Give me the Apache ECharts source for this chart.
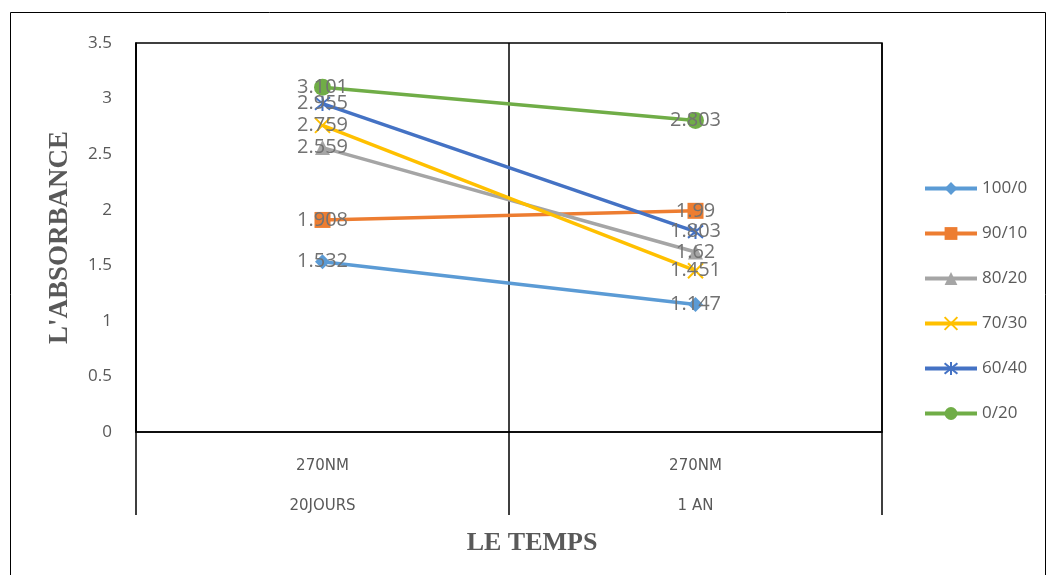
<!DOCTYPE html>
<html>
<head>
<meta charset="utf-8">
<script src="https://cdn.jsdelivr.net/npm/echarts@6/dist/echarts.min.js"></script>
<style>
  html, body { margin: 0; padding: 0; background: #fff; }
  #chart { width: 1050px; height: 575px; }
</style>
</head>
<body>
<div id="chart"></div>
<script>
// Absorbance at 270 nm after 20 days and after one year, per mixture ratio
const categories = ['270NM\n\n20JOURS', '270NM\n\n1 AN'];
const seriesNames = ['100/0', '90/10', '80/20', '70/30', '60/40', '0/20'];
const s100_0 = [1.532, 1.147];
const s90_10 = [1.908, 1.99];
const s80_20 = [2.559, 1.62];
const s70_30 = [2.759, 1.451];
const s60_40 = [2.955, 1.803];
const s0_20 = [3.101, 2.803];
const yTicks = { min: 0, max: 3.5, interval: 0.5 };

const colors = ['#5B9BD5', '#ED7D31', '#A5A5A5', '#FFC000', '#4472C4', '#70AD47'];
const symbols = [
  'diamond',
  'rect',
  'triangle',
  'path://M0,0L10,10M10,0L0,10',
  'path://M0,0L10,10M10,0L0,10M5,-1L5,11',
  'circle'
];
const symbolSizes = [15, 16, 15, 15, 15, 17];
const values = [s100_0, s90_10, s80_20, s70_30, s60_40, s0_20];

const series = seriesNames.map((name, i) => ({
  name: name,
  type: 'line',
  data: values[i],
  symbol: symbols[i],
  symbolSize: symbolSizes[i],
  lineStyle: { color: colors[i], width: 3.5 },
  itemStyle: { color: colors[i], borderColor: colors[i], borderWidth: (i === 3 || i === 4) ? 2 : 0 },
  label: {
    show: true,
    position: 'inside',
    color: '#727272',
    fontSize: 20,
    fontFamily: 'Open Sans, Liberation Sans, sans-serif'
  },
  z: 3
}));

const chart = echarts.init(document.getElementById('chart'), null, { renderer: 'canvas' });
chart.setOption({
  animation: false,
  backgroundColor: '#fff',
  color: colors,
  graphic: [{
    type: 'rect',
    shape: { x: 10.5, y: 12.5, width: 1035, height: 570 },
    style: { fill: 'none', stroke: '#000', lineWidth: 1 },
    silent: true
  }],
  grid: {
    left: 136, right: 168, top: 43, bottom: 143,
    show: true, borderColor: '#000', borderWidth: 1.5
  },
  legend: {
    orient: 'vertical',
    left: 918,
    top: 175,
    itemWidth: 52,
    itemHeight: 16,
    itemGap: 28,
    lineStyle: { width: 4 },
    textStyle: { color: '#595959', fontSize: 17, fontFamily: 'Open Sans, Liberation Sans, sans-serif' },
    data: seriesNames
  },
  xAxis: {
    type: 'category',
    data: categories,
    boundaryGap: true,
    name: 'LE TEMPS',
    nameLocation: 'middle',
    nameGap: 98,
    nameTextStyle: {
      color: '#595959', fontSize: 26, fontWeight: 'bold',
      fontFamily: 'Liberation Serif, serif', padding: [0, 0, 0, 46]
    },
    axisLine: { show: true, lineStyle: { color: '#000', width: 1.5 } },
    axisTick: { show: true, interval: 0, alignWithLabel: false, length: 83, lineStyle: { color: '#000', width: 1.5 } },
    splitLine: { show: true, interval: 0, lineStyle: { color: '#000', width: 1.5 } },
    axisLabel: {
      interval: 0,
      margin: 24,
      color: '#595959',
      fontSize: 15,
      lineHeight: 20,
      fontFamily: 'DejaVu Sans, sans-serif'
    }
  },
  yAxis: {
    type: 'value',
    min: yTicks.min,
    max: yTicks.max,
    interval: yTicks.interval,
    name: "L'ABSORBANCE",
    nameLocation: 'middle',
    nameGap: 62,
    nameTextStyle: { color: '#595959', fontSize: 27, fontWeight: 'bold', fontFamily: 'Liberation Serif, serif' },
    axisLine: { show: true, lineStyle: { color: '#000', width: 1.5 } },
    axisTick: { show: false },
    splitLine: { show: false },
    axisLabel: {
      margin: 24,
      color: '#595959',
      fontSize: 17,
      fontFamily: 'Open Sans, Liberation Sans, sans-serif'
    }
  },
  series: series
});
</script>
</body>
</html>
